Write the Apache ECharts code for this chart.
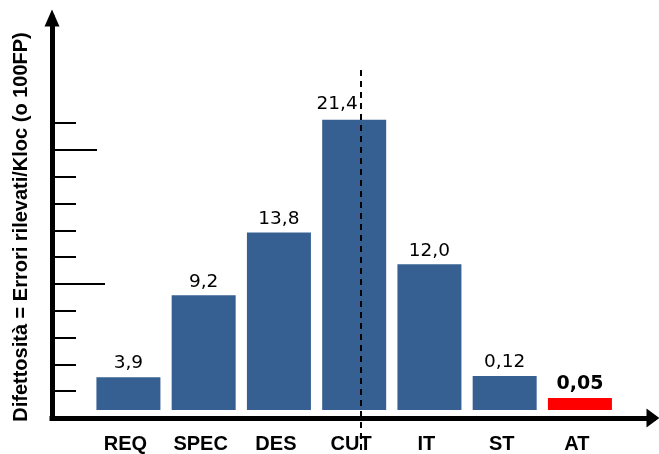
<!DOCTYPE html>
<html><head><meta charset="utf-8">
<script src="https://cdn.jsdelivr.net/npm/echarts@6/dist/echarts.min.js"></script>
<style>html,body{margin:0;padding:0;background:#fff}#c{width:659px;height:454px}</style>
</head><body><div id="c"></div>
<script>
// Data
const categories = ['REQ', 'SPEC', 'DES', 'CUT', 'IT', 'ST', 'AT'];
const barHeights = [2.46, 8.58, 13.28, 21.72, 10.90, 2.54, 0.90];   // drawn bar heights (axis units)
const valueLabels = ['3,9', '9,2', '13,8', '21,4', '12,0', '0,12', '0,05'];
const shortTicks = [2, 4, 6, 8, 12, 14, 16, 18, 22];
const longTickA = [10];
const longTickB = [20];
const yTitle = 'Difettosità = Errori rilevati/Kloc (o 100FP)';

const Y_MAX = 29.85, BAR_MIN = -0.52;
const chart = echarts.init(document.getElementById('c'), null, {renderer: 'canvas'});

const hiddenAxis = {axisLine: {show: false}, axisTick: {show: false}, axisLabel: {show: false}, splitLine: {show: false}};
const tickAxis = (vals, len) => ({
  type: 'value', gridIndex: 0, min: 0, max: Y_MAX, position: 'left', offset: 0,
  axisLine: {show: false, onZero: false}, axisLabel: {show: false}, splitLine: {show: false},
  axisTick: {show: true, inside: true, length: len, customValues: vals, lineStyle: {color: '#000', width: 2}}
});

const data = barHeights.map((v, i) => {
  const item = {value: v, label: {formatter: valueLabels[i]}};
  if (categories[i] === 'AT') {
    item.itemStyle = {color: '#ff0000'};
    item.label.fontWeight = 'bold';
    item.label.fontSize = 19;
  }
  if (categories[i] === 'CUT') item.label.offset = [-17, -2];
  return item;
});

chart.setOption({
  animation: false,
  backgroundColor: '#fff',
  grid: [
    {left: 52, right: 6, top: 18, bottom: 36},
    {left: 90.8, right: 41.45, top: 18, bottom: 36}
  ],
  xAxis: [
    Object.assign({type: 'value', gridIndex: 0, min: 0, max: 1}, hiddenAxis, {
      axisLine: {show: true, onZero: false, symbol: ['none', 'triangle'], symbolSize: [19, 13],
        lineStyle: {color: '#000', width: 5, cap: 'square'}}
    }),
    {type: 'category', gridIndex: 1, data: categories,
      axisLine: {show: false}, axisTick: {show: false}, splitLine: {show: false},
      axisLabel: {fontFamily: 'Liberation Sans', fontWeight: 'bold', fontSize: 20, color: '#000', margin: 17, padding: [0, 6, 0, 0]}}
  ],
  yAxis: [
    Object.assign(tickAxis(shortTicks, 24), {
      axisLine: {show: true, onZero: false, symbol: ['none', 'triangle'], symbolSize: [15, 17],
        lineStyle: {color: '#000', width: 5, cap: 'square'}}
    }),
    tickAxis(longTickA, 53),
    tickAxis(longTickB, 45),
    Object.assign({type: 'value', gridIndex: 1, min: BAR_MIN, max: Y_MAX + BAR_MIN}, hiddenAxis)
  ],
  series: [{
    type: 'bar', xAxisIndex: 1, yAxisIndex: 3,
    barWidth: 64,
    itemStyle: {color: '#376092'},
    label: {show: true, position: 'top', distance: 4, fontFamily: 'DejaVu Sans', fontSize: 18.5, color: '#000'},
    data: data
  }],
  graphic: [
    {type: 'text', x: 21, y: 227, rotation: Math.PI / 2,
      style: {text: yTitle, font: 'bold 20px "Liberation Sans"', fill: '#000', align: 'center', verticalAlign: 'middle'}},
    {type: 'line', shape: {x1: 361, y1: 70, x2: 361, y2: 452},
      style: {stroke: '#000', lineWidth: 2, lineDash: [6, 5]}, z: 100}
  ]
});
</script>
</body></html>
